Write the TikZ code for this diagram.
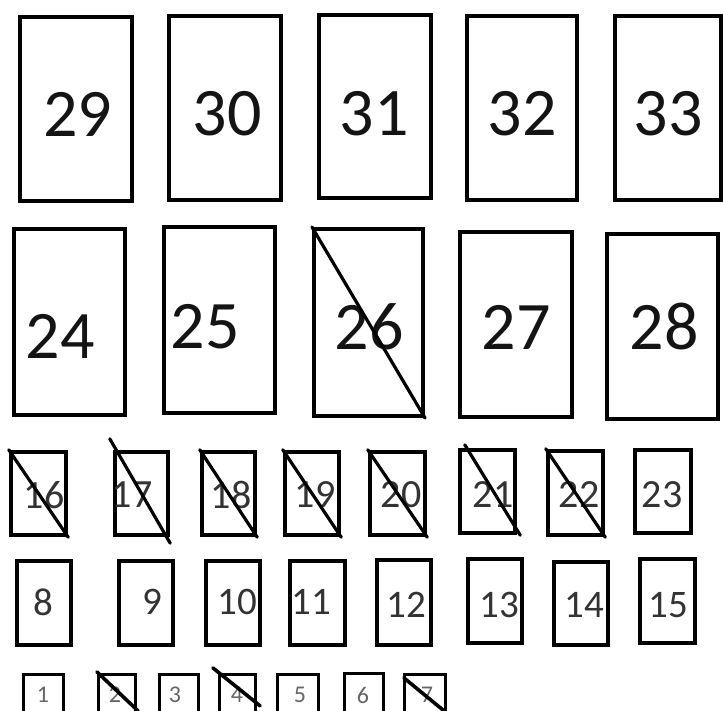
\documentclass[tikz,border=0pt]{standalone}
\usepackage{fontspec}
\setmainfont{Carlito}
\tikzset{
  frame/.style={draw=black, fill=none, inner sep=0pt},
  bigframe/.style={frame, line width=4.2pt, minimum width=112pt, minimum height=185pt},
  midframe/.style={frame, line width=4.5pt, minimum width=55pt, minimum height=84pt},
  tinyframe/.style={frame, line width=2.7pt, minimum width=40pt, minimum height=60pt},
  slash/.style={draw=black, line width=3.2pt, line cap=round},
  biglbl/.style={inner sep=0pt, text=black!92, font=\fontsize{68}{74}\selectfont},
  midlbl/.style={inner sep=0pt, text=black!80, font=\fontsize{40}{44}\selectfont},
  lowlbl/.style={inner sep=0pt, text=black!80, font=\fontsize{39}{44}\selectfont},
  tinylbl/.style={inner sep=0pt, text=black!60, font=\fontsize{24}{28}\selectfont}
}
\begin{document}
\begin{tikzpicture}[x=1pt, y=-1pt]
\useasboundingbox (0,0) rectangle (724,711);
\clip (0,0) rectangle (724,711);
\fill[white] (0,0) rectangle (724,711);

% top row
\node[bigframe, minimum width=112pt, minimum height=184pt] (b29) at (76,109) {};
\node[bigframe, minimum width=112pt, minimum height=184pt] (b30) at (225,108) {};
\node[bigframe, minimum width=112pt, minimum height=183pt] (b31) at (375,106.5) {};
\node[bigframe, minimum width=110pt, minimum height=184pt] (b32) at (522,108) {};
\node[bigframe, minimum width=106pt, minimum height=184pt] (b33) at (668,108) {};
\node[biglbl] (t29) at (77.5,114) {29};
\node[biglbl] (t30) at (227,114) {30};
\node[biglbl] (t31) at (374,114) {31};
\node[biglbl] (t32) at (522,114) {32};
\node[biglbl] (t33) at (668,114) {33};

% second row
\node[bigframe, minimum width=111pt, minimum height=186pt] (b24) at (69.5,322) {};
\node[bigframe, minimum width=111pt, minimum height=186pt] (b25) at (219.5,320) {};
\node[bigframe, minimum width=109pt, minimum height=187pt] (b26) at (368.5,322.5) {};
\node[bigframe, minimum width=112pt, minimum height=185pt] (b27) at (516,324.5) {};
\node[bigframe, minimum width=111pt, minimum height=185pt] (b28) at (662.5,326.5) {};
\node[biglbl] (t24) at (60,336) {24};
\node[biglbl] (t25) at (205,327) {25};
\node[biglbl] (t26) at (369,327) {26};
\node[biglbl] (t27) at (516,327) {27};
\node[biglbl] (t28) at (664,327) {28};
\draw[slash] (b26.north west) -- (b26.south east);

% third row
\node[midframe, minimum width=55pt, minimum height=83pt] (b16) at (38.5,493.5) {};
\node[midframe, minimum width=53pt, minimum height=83pt] (b17) at (141.5,493.5) {};
\node[midframe, minimum width=53pt, minimum height=83pt] (b18) at (228.5,493.5) {};
\node[midframe, minimum width=54pt, minimum height=83pt] (b19) at (312,493.5) {};
\node[midframe, minimum width=55pt, minimum height=83pt] (b20) at (397.5,493.5) {};
\node[midframe, minimum width=55pt, minimum height=83pt] (b21) at (487.5,491.5) {};
\node[midframe, minimum width=55pt, minimum height=84pt] (b22) at (575.5,493) {};
\node[midframe, minimum width=56pt, minimum height=83pt] (b23) at (663,491.5) {};
\node[midlbl] (t16) at (44,495) {16};
\node[midlbl] (t17) at (132,495) {17};
\node[midlbl] (t18) at (231,495) {18};
\node[midlbl] (t19) at (315,495) {19};
\node[midlbl] (t20) at (401,495) {20};
\node[midlbl] (t21) at (493,495) {21};
\node[midlbl] (t22) at (579,495) {22};
\node[midlbl] (t23) at (662,495) {23};
\draw[slash] (b16.north west) -- (b16.south east);
\draw[slash] ([shift={(-3,-11)}]b17.north west) -- ([shift={(0,6)}]b17.south east);
\draw[slash] (b18.north west) -- (b18.south east);
\draw[slash] (b19.north west) -- (b19.south east);
\draw[slash] (b20.north west) -- (b20.south east);
\draw[slash] ([shift={(7,-3)}]b21.north west) -- ([shift={(3,0)}]b21.south east);
\draw[slash] (b22.north west) -- (b22.south east);

% fourth row
\node[midframe, minimum width=54pt, minimum height=84pt] (b8) at (44,603) {};
\node[midframe, minimum width=54pt, minimum height=84pt] (b9) at (146,603) {};
\node[midframe, minimum width=54pt, minimum height=84pt] (b10) at (233,603) {};
\node[midframe, minimum width=55pt, minimum height=84pt] (b11) at (317.5,603) {};
\node[midframe, minimum width=54pt, minimum height=85pt] (b12) at (404,602.5) {};
\node[midframe, minimum width=54pt, minimum height=84pt] (b13) at (495,601) {};
\node[midframe, minimum width=54pt, minimum height=83pt] (b14) at (581,603.5) {};
\node[midframe, minimum width=55pt, minimum height=84pt] (b15) at (667.5,601) {};
\node[lowlbl] (t8) at (43,602) {8};
\node[lowlbl] (t9) at (152,602) {9};
\node[lowlbl] (t10) at (237,602) {10};
\node[lowlbl] (t11) at (311,602) {11};
\node[lowlbl] (t12) at (406,605) {12};
\node[lowlbl] (t13) at (499,605) {13};
\node[lowlbl] (t14) at (584,605) {14};
\node[lowlbl] (t15) at (668,605) {15};

% bottom row (cut off by the lower edge)
\node[tinyframe, minimum width=40.5pt] (b1) at (43.5,704.25) {};
\node[tinyframe, minimum width=37.5pt] (b2) at (117,704.25) {};
\node[tinyframe, minimum width=39.5pt] (b3) at (179,704.25) {};
\node[tinyframe, minimum width=36.5pt] (b4) at (237.5,704.25) {};
\node[tinyframe, minimum width=41.5pt] (b5) at (298,704.25) {};
\node[tinyframe, minimum width=39.5pt] (b6) at (364,703.25) {};
\node[tinyframe, minimum width=41.5pt] (b7) at (425,704.25) {};
\node[tinylbl] (t1) at (43,695) {1};
\node[tinylbl] (t2) at (115,695) {2};
\node[tinylbl] (t3) at (175,695) {3};
\node[tinylbl] (t4) at (237,695) {4};
\node[tinylbl] (t5) at (300,695) {5};
\node[tinylbl] (t6) at (363,695) {6};
\node[tinylbl] (t7) at (427,695) {7};
\draw[slash, line width=3.6pt] ([shift={(0,-1)}]b2.north west) -- ([shift={(1,38)}]b2.north east);
\draw[slash, line width=3.6pt] ([shift={(-5,-5)}]b4.north west) -- ([shift={(3,33)}]b4.north east);
\draw[slash, line width=3.6pt] ([shift={(1,5)}]b7.north west) -- ([shift={(-3,38)}]b7.north east);
\end{tikzpicture}
\end{document}
